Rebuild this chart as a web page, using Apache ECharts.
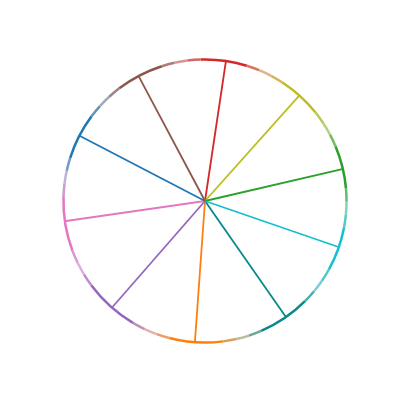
<!DOCTYPE html>
<html><head><meta charset="utf-8">
<script src="https://cdn.jsdelivr.net/npm/echarts@6/dist/echarts.min.js"></script>
<style>html,body{margin:0;padding:0;background:#fff}#c{width:400px;height:400px}</style>
</head><body><div id="c"></div>
<script>
// Angles of each radial line, degrees clockwise from 12 o'clock
const lineAngles = [8.5, 41.8, 76.9, 109, 145.1, 184.1, 221.1, 261.8, 297.5, 332];
const lineColors = ['#d62728','#bcbd22','#2ca02c','#17becf','#08898a','#ff7f0e','#9467bd','#e377c2','#1f77b4','#8c564b'];
const lineRadius = [0, 1];

const n = lineAngles.length;
const fadeWidth = 16; // width of blended zone on the rim, degrees

function hex(c) { return [1, 3, 5].map(k => parseInt(c.substr(k, 2), 16)); }
function mix(c1, c2, t, white) {
  const a = hex(c1), b = hex(c2);
  const m = a.map((v, k) => v * (1 - t) + b[k] * t).map(v => Math.round(v * (1 - white) + 255 * white));
  return 'rgb(' + m.join(',') + ')';
}

// rim midpoints between neighbouring lines
const mids = lineAngles.map((a, i) => {
  const prev = i === 0 ? lineAngles[n - 1] - 360 : lineAngles[i - 1];
  return (prev + a) / 2;
});
const arcData = [];
const steps = [[0.2, 0.25], [0.5, 0.45], [0.8, 0.25]];
lineAngles.forEach((a, i) => {
  const next = i === n - 1 ? mids[0] + 360 : mids[i + 1];
  const solid = next - mids[i] - fadeWidth;
  arcData.push({ value: solid, itemStyle: { color: lineColors[i] } });
  const c2 = lineColors[(i + 1) % n];
  steps.forEach(s => arcData.push({ value: fadeWidth / steps.length, itemStyle: { color: mix(lineColors[i], c2, s[0], s[1]) } }));
});

const series = lineAngles.map((a, i) => ({
  type: 'line', coordinateSystem: 'polar', symbol: 'none', silent: true,
  data: lineRadius.map(r => [r, a]),
  lineStyle: { color: lineColors[i], width: 1.8 }, z: 2
}));
series.push({
  type: 'pie', center: [205, 201], radius: [140.3, 142.8], startAngle: 90 - (mids[0] + fadeWidth / 2),
  clockwise: true, silent: true, animation: false, z: 3,
  label: { show: false }, labelLine: { show: false },
  itemStyle: { borderWidth: 0 },
  data: arcData
});

const chart = echarts.init(document.getElementById('c'), null, { renderer: 'canvas' });
chart.setOption({
  animation: false,
  backgroundColor: '#fff',
  polar: { center: [205, 201], radius: 142 },
  angleAxis: { type: 'value', min: 0, max: 360, startAngle: 90, clockwise: true, show: false },
  radiusAxis: { type: 'value', min: 0, max: 1, show: false },
  series: series
});
</script></body></html>
